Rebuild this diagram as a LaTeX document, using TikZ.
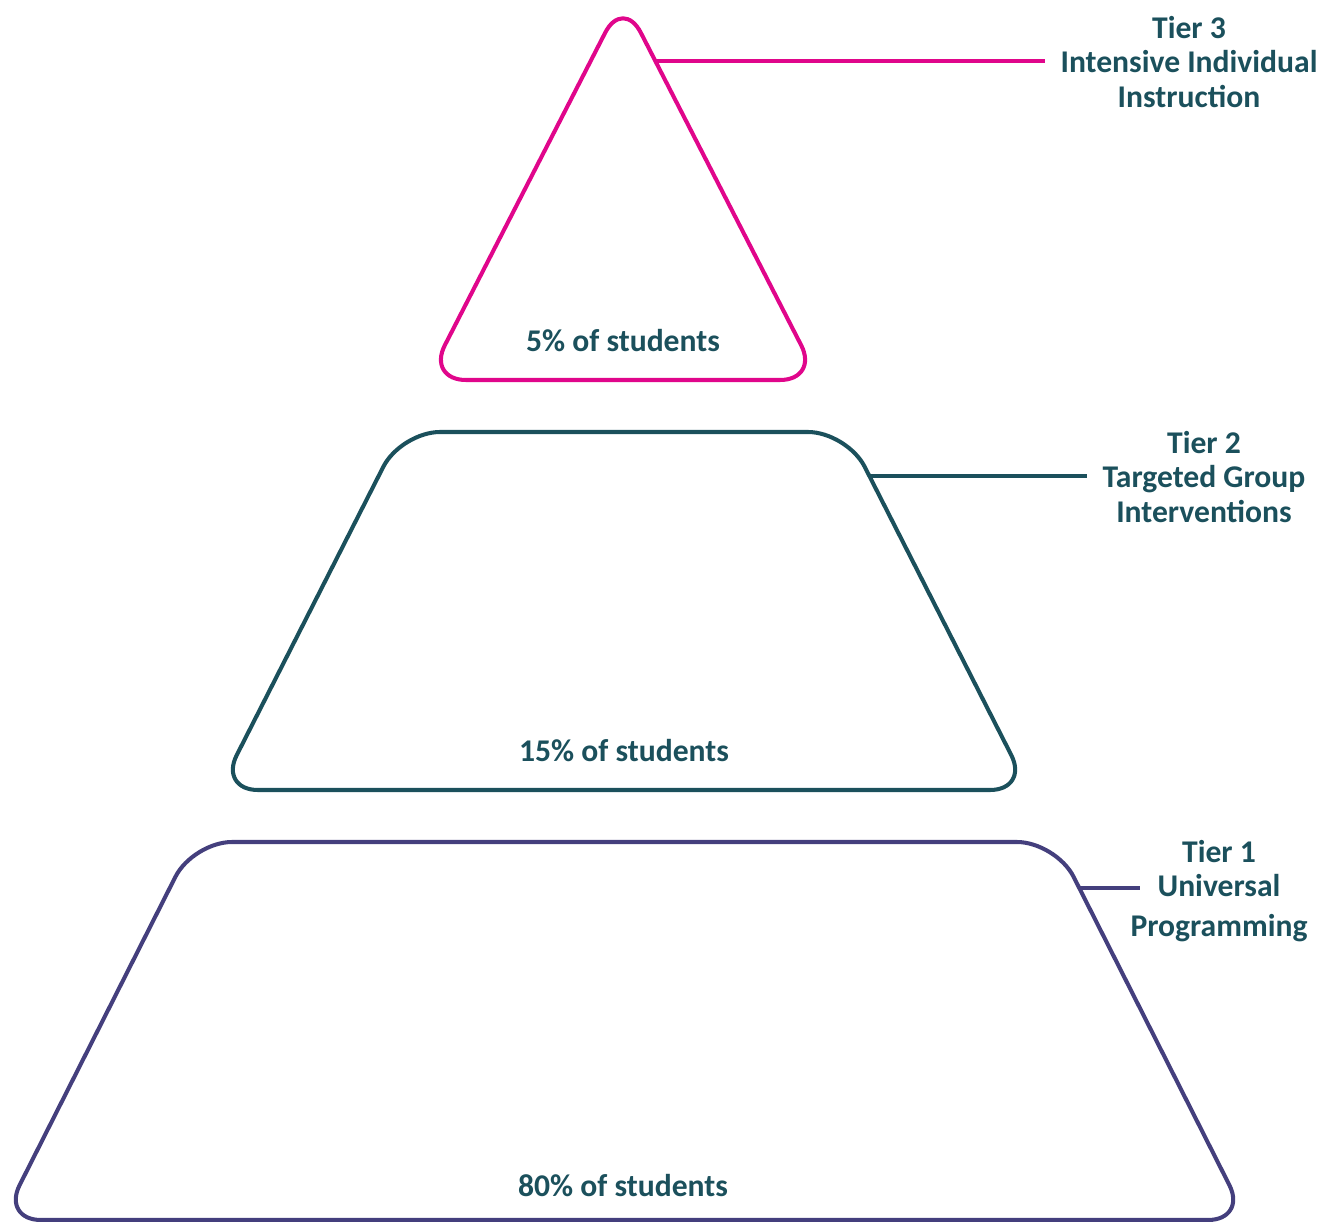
\documentclass[tikz,border=0pt]{standalone}
\usepackage{fontspec}
\setmainfont{Carlito}
\definecolor{inktext}{HTML}{1B505C}
\definecolor{tierpink}{HTML}{E0068B}
\definecolor{tierteal}{HTML}{1B505C}
\definecolor{tierpurple}{HTML}{443F7D}

\begin{document}
\begin{tikzpicture}[x=0.02cm,y=-0.02cm,line width=2.3pt,
	tier/.style={rounded corners=0.78cm,line join=round},
	tiertext/.style={text=inktext,align=center,inner sep=0pt,
	font=\fontsize{18}{19.8}\selectfont\bfseries},
	pcttext/.style={text=inktext,inner sep=0pt,font=\fontsize{18}{19.8}\selectfont\bfseries}]
\useasboundingbox (0,0) rectangle (1331,1222);
\draw[tierpink,tier] (623,380) -- (427,380) -- (623,-2) -- (819,380) -- cycle;
\draw[tierteal,tier] (624,790) -- (219,790) -- (401,432) -- (847,432) -- (1029,790) -- cycle;
\draw[tierpurple,tier] (624,1220) -- (2,1220) -- (193,842) -- (1056,842) -- (1247,1220) -- cycle;
\node[pcttext] (p3) at (623,341) {5\% of students};
\node[pcttext] (p2) at (624,751) {15\% of students};
\node[pcttext] (p1) at (623,1186) {80\% of students};
\node[tiertext] (t3) at (1189,62) {Tier 3\\Intensive Individual\\Instruction};
\node[tiertext] (t2) at (1204,477) {Tier 2\\Targeted Group\\Interventions};
\node[tiertext] (t1) at (1219,891) {Tier 1\\Universal\\[0.1cm]Programming};
\coordinate (e3) at (656,61);
\coordinate (f3) at (1045,61);
\coordinate (e2) at (868,476);
\coordinate (f2) at (1087,476);
\coordinate (e1) at (1079,888);
\coordinate (f1) at (1140,888);
\draw[tierpink] (e3) -- (f3);
\draw[tierteal] (e2) -- (f2);
\draw[tierpurple] (e1) -- (f1);
\end{tikzpicture}
\end{document}
